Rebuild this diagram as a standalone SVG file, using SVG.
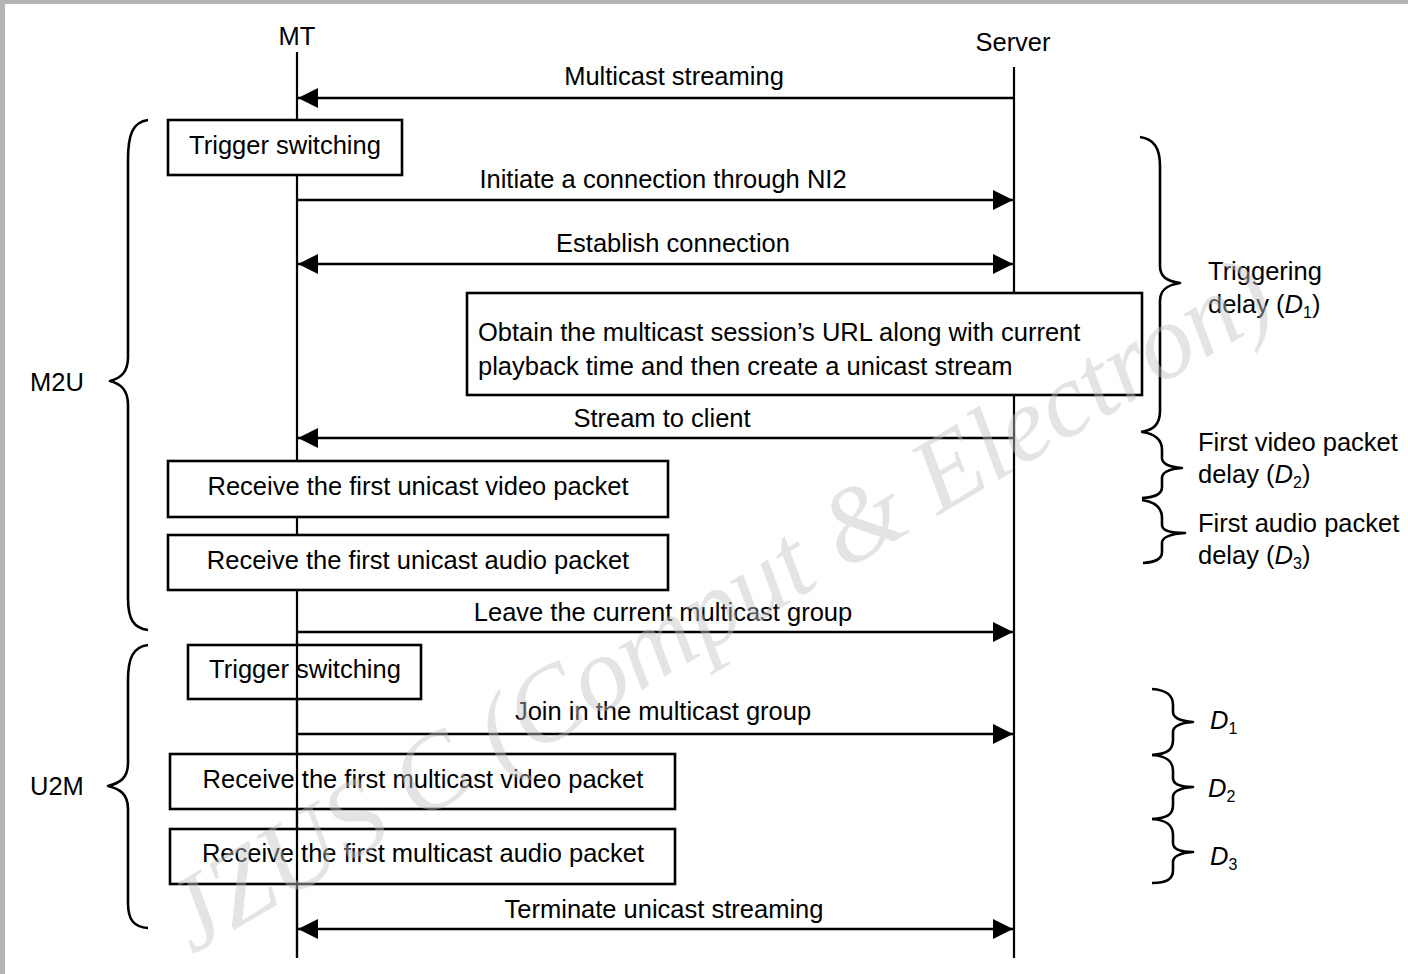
<svg xmlns="http://www.w3.org/2000/svg" width="1408" height="974" viewBox="0 0 1408 974">
<defs>
<marker id="ah" markerUnits="userSpaceOnUse" markerWidth="22" markerHeight="22" refX="20" refY="10" orient="auto-start-reverse" viewBox="0 0 22 22">
<path d="M0,0 L20,10 L0,20 z" fill="#000"/>
</marker>
<style>
text{font-family:"Liberation Sans",Arial,sans-serif;font-size:25.5px;fill:#000}
.mid{text-anchor:middle}
.life{stroke:#000;stroke-width:2.2;fill:none}
.msg{stroke:#000;stroke-width:2.6;fill:none}
.box{fill:#fff;stroke:#000;stroke-width:2.6}
.brace{fill:none;stroke:#000;stroke-width:2.6;stroke-linejoin:round}
.it{font-style:italic}
.sub{font-size:16px}
.wm{font-family:"Liberation Serif","Times New Roman",serif;font-style:italic;font-size:106px;fill:#c4c4c4;fill-opacity:0.45}
</style>
</defs>
<rect x="0" y="0" width="1408" height="974" fill="#fff"/>
<rect x="0" y="0" width="1408" height="4" fill="#b4b4b4"/>
<rect x="0" y="0" width="5" height="974" fill="#b4b4b4"/>

<g id="lifelines">
<text class="mid" x="297" y="45">MT</text>
<text class="mid" x="1013" y="51">Server</text>
<line class="life" x1="297" y1="52" x2="297" y2="958"/>
<line class="life" x1="1014" y1="67" x2="1014" y2="958"/>
</g>

<g id="connectors">
<line class="msg" x1="1014" y1="98" x2="298" y2="98" marker-end="url(#ah)"/>
<line class="msg" x1="297" y1="200" x2="1013" y2="200" marker-end="url(#ah)"/>
<line class="msg" x1="298" y1="264" x2="1013" y2="264" marker-start="url(#ah)" marker-end="url(#ah)"/>
<line class="msg" x1="1014" y1="438" x2="298" y2="438" marker-end="url(#ah)"/>
<line class="msg" x1="297" y1="632" x2="1013" y2="632" marker-end="url(#ah)"/>
<line class="msg" x1="297" y1="734" x2="1013" y2="734" marker-end="url(#ah)"/>
<line class="msg" x1="298" y1="929" x2="1013" y2="929" marker-start="url(#ah)" marker-end="url(#ah)"/>
</g>

<g id="labels">
<text class="mid" x="674" y="85">Multicast streaming</text>
<text class="mid" x="663" y="188">Initiate a connection through NI2</text>
<text class="mid" x="673" y="252">Establish connection</text>
<text class="mid" x="662" y="427">Stream to client</text>
<text class="mid" x="663" y="621">Leave the current multicast group</text>
<text class="mid" x="663" y="720">Join in the multicast group</text>
<text class="mid" x="664" y="918">Terminate unicast streaming</text>
</g>

<g id="trigger1">
<rect class="box" x="168" y="120" width="234" height="55"/>
<text class="mid" x="285" y="154">Trigger switching</text>
</g>
<g id="obtain">
<rect class="box" x="467" y="293" width="675" height="102"/>
<text x="478" y="341">Obtain the multicast session’s URL along with current</text>
<text x="478" y="375">playback time and then create a unicast stream</text>
</g>
<g id="unicastVideo">
<rect class="box" x="168" y="461" width="500" height="56"/>
<text class="mid" x="418" y="495">Receive the first unicast video packet</text>
</g>
<g id="unicastAudio">
<rect class="box" x="168" y="535" width="500" height="55"/>
<text class="mid" x="418" y="569">Receive the first unicast audio packet</text>
</g>

<g id="trigger2">
<rect class="box" x="188" y="645" width="233" height="54"/>
<text class="mid" x="305" y="678">Trigger switching</text>
</g>
<g id="multicastVideo">
<rect class="box" x="170" y="754" width="505" height="55"/>
<text class="mid" x="423" y="788">Receive the first multicast video packet</text>
</g>
<g id="multicastAudio">
<rect class="box" x="170" y="829" width="505" height="55"/>
<text class="mid" x="423" y="862">Receive the first multicast audio packet</text>
</g>
<line class="life" x1="297" y1="640" x2="297" y2="958"/>

<g id="m2u">
<path class="brace" d="M148,120 C133,122 128,134 128,160 L128,357 C128,372 121,378 110,381 C121,384 128,390 128,405 L128,598 C128,620 134,628 148,630"/>
<text x="30" y="391">M2U</text>
</g>
<g id="u2m">
<path class="brace" d="M148,645 C133,647 128,658 128,680 L128,763 C128,778 120,783 108,786 C120,789 128,794 128,809 L128,903 C128,920 134,927 148,928"/>
<text x="30" y="795">U2M</text>
</g>

<g id="d1brace">
<path class="brace" d="M1140,137 C1154,139 1160,148 1160,166 L1160,266 C1160,277 1167,281 1180,283 C1167,285 1160,290 1160,301 L1160,411 C1160,425 1153,430 1141,432"/>
<text x="1208" y="280">Triggering</text>
<text x="1208" y="313">delay (<tspan class="it">D</tspan><tspan class="sub" dy="5">1</tspan><tspan dy="-5">)</tspan></text>
</g>
<g id="d2brace">
<path class="brace" d="M1142,432 C1156,434 1162,440 1162,450 L1162,458 C1162,464 1169,467 1182,468 C1169,469 1162,472 1162,478 L1162,487 C1162,494 1156,497 1142,498"/>
<text x="1198" y="451">First video packet</text>
<text x="1198" y="483">delay (<tspan class="it">D</tspan><tspan class="sub" dy="5">2</tspan><tspan dy="-5">)</tspan></text>
</g>
<g id="d3brace">
<path class="brace" d="M1142,500 C1156,502 1162,508 1162,518 L1162,525 C1162,530 1170,533 1185,533 C1170,534 1162,537 1162,543 L1162,552 C1162,559 1156,562 1143,563"/>
<text x="1198" y="532">First audio packet</text>
<text x="1198" y="564">delay (<tspan class="it">D</tspan><tspan class="sub" dy="5">3</tspan><tspan dy="-5">)</tspan></text>
</g>

<g id="lowD1">
<path class="brace" d="M1152,689 C1167,690 1173,695 1173,705 L1173,712 C1173,718 1180,721 1193,722 C1180,723 1173,726 1173,732 L1173,740 C1173,750 1167,754 1152,755"/>
<text x="1210" y="729"><tspan class="it">D</tspan><tspan class="sub" dy="5">1</tspan></text>
</g>
<g id="lowD2">
<path class="brace" d="M1152,755 C1167,756 1173,761 1173,771 L1173,778 C1173,784 1180,787 1193,787 C1180,788 1173,791 1173,797 L1173,805 C1173,815 1167,818 1152,819"/>
<text x="1208" y="797"><tspan class="it">D</tspan><tspan class="sub" dy="5">2</tspan></text>
</g>
<g id="lowD3">
<path class="brace" d="M1152,819 C1167,820 1173,825 1173,835 L1173,843 C1173,849 1180,852 1193,852 C1180,853 1173,856 1173,862 L1173,870 C1173,879 1167,883 1152,883"/>
<text x="1210" y="865"><tspan class="it">D</tspan><tspan class="sub" dy="5">3</tspan></text>
</g>

<text class="wm" transform="translate(192,955) rotate(-30.5)">JZUS C (Comput &amp; Electron)</text>
</svg>
